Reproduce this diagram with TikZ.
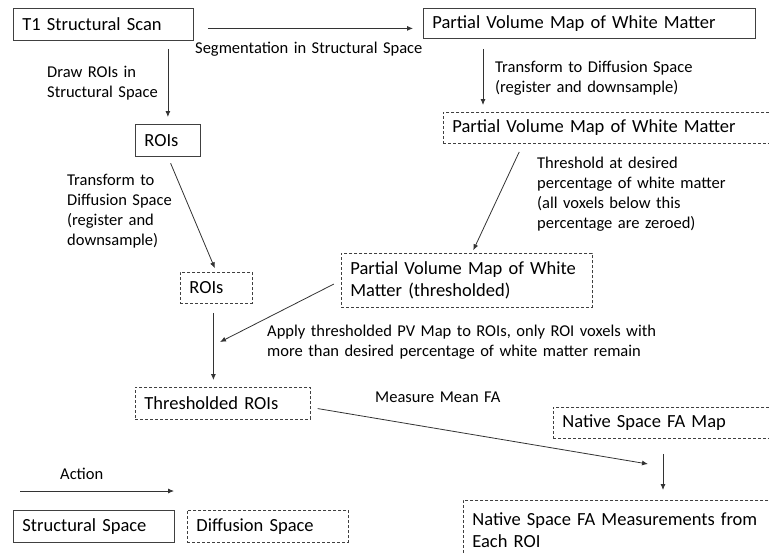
\documentclass[tikz,border=0pt]{standalone}
\usepackage{fontspec}
\setmainfont{Carlito}
\usetikzlibrary{arrows.meta}
\tikzset{
	boxtext/.style={font=\fontsize{18.5}{22}\selectfont},
	solidbox/.style={draw=black!75, line width=0.8pt, anchor=north west, align=left, inner xsep=9pt, inner ysep=0pt, boxtext},
	dashbox/.style={solidbox, dash pattern=on 3pt off 2pt},
	lbl/.style={anchor=base west, align=left, inner sep=0pt, text width=#1, font=\fontsize{16.5}{20.3}\selectfont},
	lbl/.default=300pt,
	arr/.style={draw=black!80, line width=0.8pt, -{Latex[length=6pt,width=5pt]}}
}
\begin{document}
	\begin{tikzpicture}
		[x=1pt,y=-1pt]
		\useasboundingbox (0,0) rectangle (769,552);
		\clip (0,0) rectangle (769,552);
		% boxes
		\node[solidbox, text width=162pt, minimum height=32pt] (t1) at (13,8) {T1 Structural Scan};
		\node[solidbox, text width=314pt, minimum height=30pt] (pvS) at (423,8) {Partial Volume Map of White Matter};
		\node[solidbox, text width=47pt, minimum height=32pt] (roiS) at (135,124) {ROIs};
		\node[dashbox, text width=322pt, minimum height=31pt] (pvD) at (443,112) {Partial Volume Map of White Matter};
		\node[dashbox, text width=54pt, minimum height=31pt] (roiD) at (180,272) {ROIs};
		\node[dashbox, text width=233pt, minimum height=54pt] (pvT) at (341,253) {Partial Volume Map of White\\Matter (thresholded)};
		\node[dashbox, text width=157pt, minimum height=32pt] (thR) at (135,387) {Thresholded ROIs};
		\node[dashbox, text width=212pt, minimum height=31pt] (faMap) at (553,407) {Native Space FA Map};
		\node[dashbox, text width=302pt, minimum height=60pt] (meas) at (463,500) {Native Space FA Measurements from\\Each ROI};
		\node[solidbox, text width=143pt, minimum height=32pt] (legS) at (13,510) {Structural Space};
		\node[dashbox, text width=143pt, minimum height=32pt] (legD) at (187,510) {Diffusion Space};
		% labels
		\node[lbl] (segL) at (195,53) {Segmentation in Structural Space};
		\node[lbl] (drawL) at (47,77) {Draw ROIs in\\Structural Space};
		\node[lbl] (trPvL) at (495,72) {Transform to Diffusion Space\\(register and downsample)};
		\node[lbl] (trRoiL) at (67,185) {Transform to\\Diffusion Space\\(register and\\downsample)};
		\node[lbl] (thrL) at (537,168) {Threshold at desired\\percentage of white matter\\(all voxels below this\\percentage are zeroed)};
		\node[lbl=420pt] (applyL) at (267,336) {Apply thresholded PV Map to ROIs, only ROI voxels with\\more than desired percentage of white matter remain};
		\node[lbl] (measL) at (375,402) {Measure Mean FA};
		\node[lbl] (actL) at (60,479) {Action};
		% arrows
		\coordinate (segA) at ([yshift=-4pt]t1.east);
		\coordinate (trA) at ([xshift=60pt]pvS.south west);
		\coordinate (thA) at ([xshift=80pt]pvD.south west);
		\coordinate (thB) at ([xshift=131pt]pvT.north west);
		\coordinate (applyEnd) at (220,342);
		\coordinate (vA) at ([xshift=-3pt]roiD.south);
		\coordinate (measA) at ([yshift=-4pt]thR.east);
		\coordinate (measEnd) at (648,464);
		\coordinate (faA) at ([xshift=110pt]faMap.south west);
		\coordinate (actA) at (20,491);
		\coordinate (actB) at (174,491);
		\draw[arr, shorten <=14pt, shorten >=10pt] (segA) -- (segA -| pvS.west);
		\draw[arr, shorten <=8pt, shorten >=7pt] (roiS.north |- t1.south) -- (roiS.north);
		\draw[arr, shorten <=10pt, shorten >=7pt] (trA) -- (trA |- pvD.north);
		\draw[arr, shorten <=7pt, shorten >=4pt] (roiS.south) -- (roiD.north);
		\draw[arr, shorten <=9pt, shorten >=3pt] (thA) -- (thB);
		\draw[arr, shorten <=8pt] (pvT.west) -- (applyEnd);
		\draw[arr, shorten <=9pt, shorten >=7pt] (vA) -- (vA |- thR.north);
		\draw[arr, shorten <=7pt] (measA) -- (measEnd);
		\draw[arr, shorten <=15pt, shorten >=10pt] (faA) -- (faA |- meas.north);
		\draw[arr] (actA) -- (actB);
	\end{tikzpicture}
\end{document}
